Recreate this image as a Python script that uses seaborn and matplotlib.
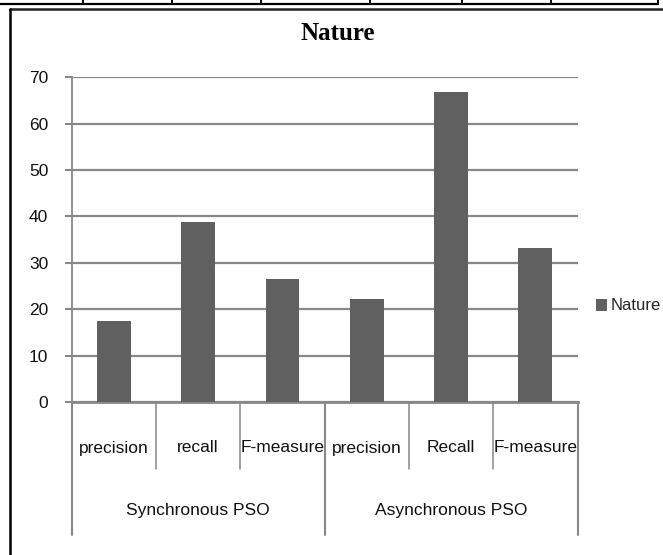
import matplotlib
matplotlib.use("Agg")
import matplotlib.pyplot as plt
from matplotlib import font_manager
from matplotlib.patches import Patch
from matplotlib.lines import Line2D
import seaborn as sns
import pandas as pd

# ---- data ----
groups = ["Synchronous PSO", "Synchronous PSO", "Synchronous PSO",
          "Asynchronous PSO", "Asynchronous PSO", "Asynchronous PSO"]
metrics = ["precision", "recall", "F-measure", "precision", "Recall", "F-measure"]
values = [17.4, 38.7, 26.6, 22.1, 66.8, 33.1]
group_names = ["Synchronous PSO", "Asynchronous PSO"]
yticks = [0, 10, 20, 30, 40, 50, 60, 70]
series_name = "Nature"
title = "Nature"

df = pd.DataFrame({"group": groups, "metric": metrics, "value": values})
df["key"] = [f"{g}|{m}|{i}" for i, (g, m) in enumerate(zip(groups, metrics))]

sns.set_theme(style="white")

installed = {f.name for f in font_manager.fontManager.ttflist}
if "Liberation Sans Narrow" in installed:
    body_family = ["Liberation Sans Narrow", "DejaVu Sans"]
    fs = 13.5
else:
    body_family = ["Liberation Sans", "DejaVu Sans"]
    fs = 12.5
plt.rcParams["font.family"] = body_family

W, H = 663, 555
fig = plt.figure(figsize=(W / 100, H / 100), dpi=100)
fig.patch.set_facecolor("white")

x0, x1, y_top, y_bot = 71.7, 577.5, 77.2, 402.0
ax = fig.add_axes([x0 / W, 1 - y_bot / H, (x1 - x0) / W, (y_bot - y_top) / H])

bar_color = "#606060"
grid_color = "#888888"
text_color = "#111111"

sns.barplot(data=df, x="key", y="value", color=bar_color, saturation=1,
            width=0.40, ax=ax, zorder=3, errorbar=None, linewidth=0)

ax.set_ylim(0, 70)
ax.set_xlim(-0.5, len(values) - 0.5)
ax.set_yticks(yticks)
ax.set_yticklabels([str(t) for t in yticks], fontsize=fs, color=text_color)
ax.set_xticks([])
ax.set_xlabel("")
ax.set_ylabel("")
ax.tick_params(axis="y", direction="out", length=4.8, width=1.5,
               color=grid_color, pad=12, left=True)
ax.yaxis.grid(True, color=grid_color, linewidth=1.6, zorder=0)
ax.set_axisbelow(True)
for s in ["top", "right"]:
    ax.spines[s].set_visible(False)
ax.spines["left"].set_color(grid_color)
ax.spines["left"].set_linewidth(1.3)
ax.spines["bottom"].set_color(grid_color)
ax.spines["bottom"].set_linewidth(2.0)

# ---- multi-level category axis ----
ax_h = y_bot - y_top
y_inner = -(469 - y_bot) / ax_h
y_group = -(535 - y_bot) / ax_h
y_lab1 = -(448 - y_bot) / ax_h
y_lab2 = -(510 - y_bot) / ax_h
trans = ax.get_xaxis_transform()
n = len(values)
for b in range(n + 1):
    xb = b - 0.5
    is_group = b in (0, 3, 6)
    ax.plot([xb, xb], [0, y_group if is_group else y_inner], transform=trans,
            color=grid_color, lw=1.5 if is_group else 1.1, clip_on=False)
for i, m in enumerate(metrics):
    ax.text(i, y_lab1, m, transform=trans, ha="center", va="center",
            fontsize=fs, color=text_color)
for gi, g in enumerate(group_names):
    ax.text(gi * 3 + 1, y_lab2, g, transform=trans, ha="center", va="center",
            fontsize=fs, color=text_color)

# ---- title ----
fig.text(338 / W, 1 - 33 / H, title, ha="center", va="center",
         fontsize=18, fontweight="bold", family=["Liberation Serif", "DejaVu Serif"],
         color="black")

# ---- legend ----
fig.legend(handles=[Patch(facecolor=bar_color, edgecolor="none", label=series_name)],
           loc="center left", bbox_to_anchor=(596 / W, 1 - 306 / H),
           frameon=False, fontsize=12, handlelength=0.65, handleheight=0.7,
           handletextpad=0.25, borderpad=0, borderaxespad=0)

# ---- surrounding frame / table remnants ----
def fline(xs, ys, color="black", lw=1.5):
    fig.add_artist(Line2D([x / W for x in xs], [1 - y / H for y in ys],
                          color=color, lw=lw, transform=fig.transFigure))

fline([0, 658], [3.5, 3.5], lw=1.6)
for xv in [83, 172, 261, 370, 462, 551, 658]:
    fline([xv, xv], [0, 3.5], lw=1.4)
fline([10, 663], [8.5, 8.5], color="#222222", lw=1.8)
fline([10, 10], [8.5, 555], color="black", lw=1.8)

fig.savefig("out.png", dpi=100)
